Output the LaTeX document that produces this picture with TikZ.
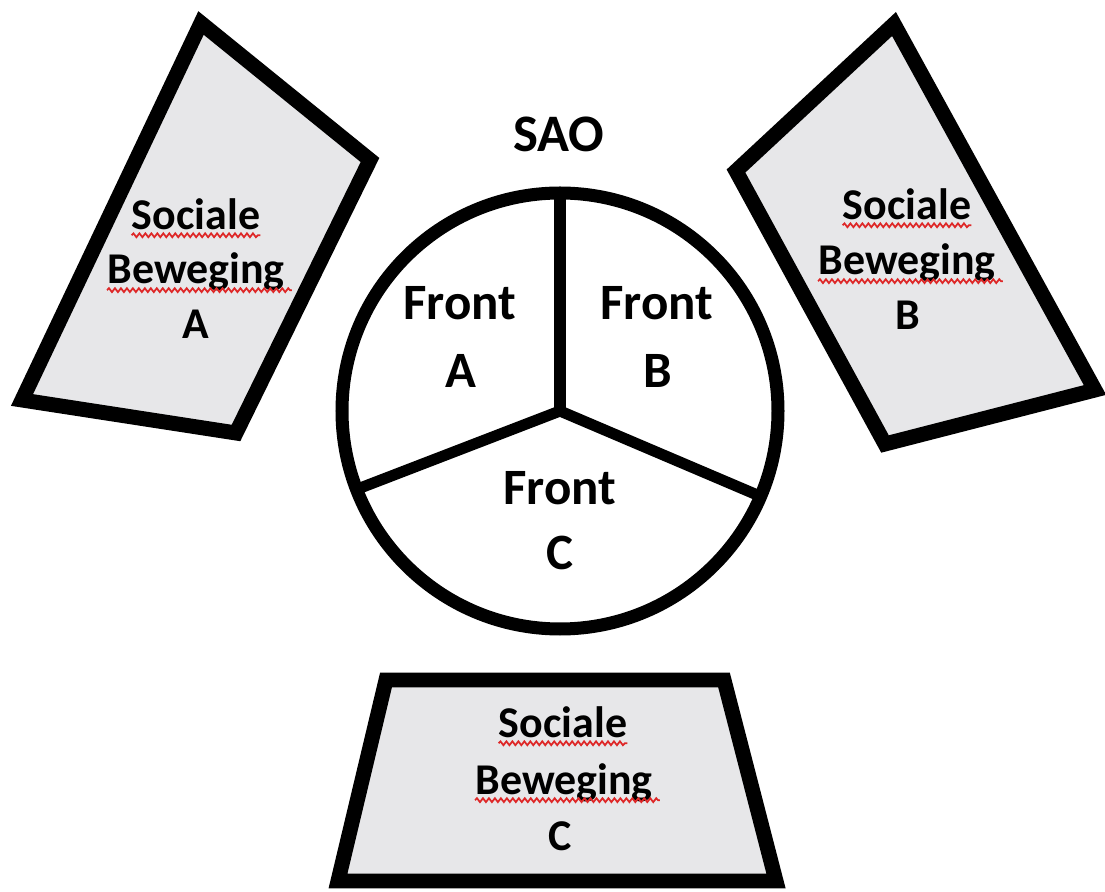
\documentclass[tikz,border=0pt]{standalone}
\usepackage{fontspec}
\setmainfont{Carlito}
\usetikzlibrary{decorations.pathmorphing}
\definecolor{boxgray}{RGB}{231,231,233}
\definecolor{spellred}{RGB}{222,40,40}

\begin{document}
\begin{tikzpicture}[x=0.2mm, y=0.2mm]
    \tikzstyle{every node}=[inner sep=0pt, anchor=base]
    \tikzstyle{bewegingbox}=[line width=8.5pt, fill=boxgray, draw=black]
    \tikzstyle{frontword}=[font=\bfseries\fontsize{29}{35}\selectfont]
    \tikzstyle{boxword}=[font=\bfseries\fontsize{25}{30}\selectfont]
    \tikzstyle{spell}=[spellred, line width=1pt, decorate,
        decoration={snake, amplitude=1.1pt, segment length=3.4pt}]
    \useasboundingbox (0,0) rectangle (1105,-892);
    % sociale bewegingen
    \draw [bewegingbox] (201,-23) -- (370,-160) -- (236,-433) -- (22,-400) -- cycle;
    \draw [bewegingbox] (894,-24) -- (1095,-390) -- (885,-444) -- (736,-171) -- cycle;
    \draw [bewegingbox] (386,-680) -- (724,-680) -- (776,-881) -- (338,-881) -- cycle;
    % SAO circle
    \coordinate (mid) at (560,-411);
    \coordinate (topend) at (560,-193);
    \coordinate (leftend) at (355,-490);
    \coordinate (rightend) at (762,-497);
    \draw [line width=6.3pt] (mid) -- (topend);
    \draw [line width=6.3pt, line join=round] (leftend) -- (mid) -- (rightend);
    \draw [line width=7.4pt] (mid) circle (218);
    \node [font=\bfseries\fontsize{30}{36}\selectfont] (sao) at (559,-152) {SAO};
    % fronts
    \node [frontword] (frontA) at (460,-320) {Front};
    \node [frontword] (letA) at (461,-388) {A};
    \node [frontword] (frontB) at (657,-320) {Front};
    \node [frontword] (letB) at (658,-388) {B};
    \node [frontword] (frontC) at (560,-505) {Front};
    \node [frontword] (letC) at (560,-570) {C};
    % labels in the boxes
    \node [boxword] (socA) at (196,-230) {Sociale};
    \node [boxword] (bewA) at (196,-284) {Beweging};
    \node [boxword] (boxA) at (196,-339) {A};
    \node [boxword] (socB) at (907,-220) {Sociale};
    \node [boxword] (bewB) at (907,-275) {Beweging};
    \node [boxword] (boxB) at (908,-330) {B};
    \node [boxword] (socC) at (563,-738) {Sociale};
    \node [boxword] (bewC) at (564,-794) {Beweging};
    \node [boxword] (boxC) at (560,-850) {C};
    % spelling marks
    \foreach \w in {socA,socB,socC} {
        \draw [spell] ([yshift=-3pt]\w.base west) -- ([yshift=-3pt]\w.base east);
    }
    \foreach \w in {bewA,bewB,bewC} {
        \draw [spell] ([yshift=-3.5pt]\w.base west) -- ([yshift=-3.5pt,xshift=4pt]\w.base east);
    }
\end{tikzpicture}
\end{document}
